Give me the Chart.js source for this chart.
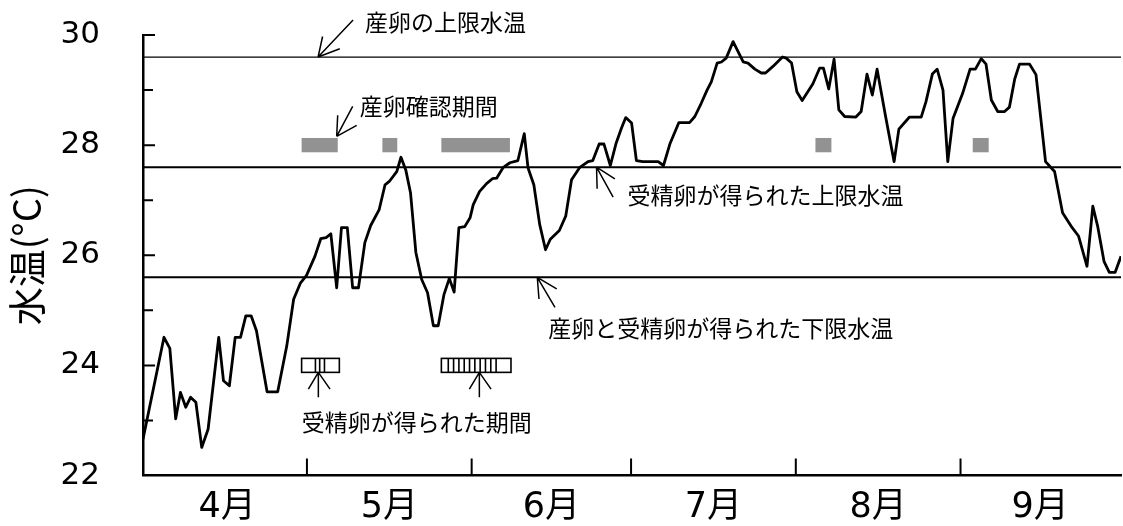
<!DOCTYPE html>
<html>
<head>
<meta charset="utf-8">
<script src="https://cdn.jsdelivr.net/npm/chart.js@4.4.1/dist/chart.umd.min.js"></script>
<style>
  html, body { margin: 0; padding: 0; background: #ffffff; }
  #wrap { width: 1123px; height: 526px; }
</style>
</head>
<body>
<div id="wrap"><canvas id="c" width="1123" height="526"></canvas></div>
<script>
// Day index counted from 1 April (0 = 4/1), daily water temperature (°C)
const dayIndex = [
  -0.85, 3.1, 4.2, 5.3, 6.2, 7.2, 8.1, 9.1, 10.2, 11.4, 13.4, 14.3, 15.4, 16.5, 17.5, 18.5, 19.5, 20.5,
  22.5, 24.5, 26.2, 27.5, 28.8, 29.9, 31.5, 32.6, 33.6, 34.5, 35.6, 36.5, 37.6, 38.6, 39.7, 40.9,
  42.0, 43.6, 44.7, 45.5, 46.9, 47.7, 48.6, 49.5, 50.5, 51.6, 52.7, 53.8, 54.7, 55.8, 56.8, 57.7,
  58.6, 59.7, 60.7, 61.3, 62.5, 63.8, 64.9, 65.7, 66.9, 68.2, 69.7, 70.9, 71.6, 72.7, 73.8, 74.9,
  75.8, 77.5, 78.7, 79.8, 81.3, 82.9, 83.8, 85.0, 85.9, 87.1, 88.2, 89.2, 90.0, 91.1, 92.0, 93.2,
  96.1, 97.1, 98.3, 100.0, 102.0, 103.0, 104.2, 105.3, 106.1, 107.2, 108.0, 108.9, 110.2, 112.1,
  113.0, 114.3, 115.5, 116.3, 117.7, 119.5, 120.2, 121.2, 122.2, 123.2, 125.2, 126.5, 127.2, 128.2,
  129.2, 130.1, 131.2, 133.3, 134.3, 135.4, 136.4, 137.3, 138.9, 140.5, 141.4, 143.4, 145.6, 146.5,
  147.7, 148.6, 149.7, 150.6, 151.6, 153.4, 154.8, 155.8, 156.9, 157.8, 158.8, 160.0, 161.3, 162.2,
  163.2, 164.1, 166.0, 167.2, 169.0, 170.7, 172.2, 173.8, 175.2, 176.8, 177.9, 178.8, 180.0, 181.0,
  182.1, 183.2
];
const waterTemp = [
  22.66, 24.51, 24.31, 23.03, 23.51, 23.24, 23.42, 23.33, 22.51, 22.84, 24.51, 23.72, 23.63, 24.51, 24.51, 24.90, 24.90, 24.63,
  23.52, 23.52, 24.35, 25.20, 25.50, 25.63, 25.98, 26.30, 26.32, 26.39, 25.41, 26.50, 26.50, 25.41, 25.41, 26.23,
  26.54, 26.83, 27.28, 27.34, 27.52, 27.78, 27.55, 27.13, 26.05, 25.56, 25.32, 24.72, 24.72, 25.29, 25.58, 25.33,
  26.50, 26.52, 26.68, 26.92, 27.16, 27.30, 27.39, 27.40, 27.59, 27.68, 27.72, 28.21, 27.59, 27.28, 26.56, 26.10,
  26.29, 26.45, 26.71, 27.37, 27.59, 27.70, 27.72, 28.02, 28.02, 27.63, 28.04, 28.31, 28.50, 28.40, 27.72, 27.70,
  27.70, 27.63, 28.02, 28.41, 28.41, 28.52, 28.76, 29.00, 29.15, 29.49, 29.51, 29.58, 29.88, 29.51,
  29.49, 29.38, 29.31, 29.31, 29.43, 29.60, 29.58, 29.49, 28.97, 28.81, 29.11, 29.40, 29.40, 29.02,
  29.56, 28.64, 28.52, 28.51, 28.61, 29.29, 28.91, 29.38, 28.52, 27.70, 28.29, 28.51, 28.51, 28.79,
  29.29, 29.38, 29.00, 27.70, 28.49, 28.94, 29.38, 29.38, 29.57, 29.47, 28.82, 28.61, 28.61, 28.69,
  29.20, 29.47, 29.47, 29.28, 27.70, 27.52, 26.77, 26.53, 26.35, 25.80, 26.89, 26.53, 25.89, 25.69,
  25.69, 25.98
];

// Months on the horizontal axis and the day each one starts
const monthNames = ['4月', '5月', '6月', '7月', '8月', '9月'];
const monthStartDays = [0, 30, 61, 91, 122, 153, 183];

// Vertical axis ticks
const tempTicks = [22, 23, 24, 25, 26, 27, 28, 29, 30];

// Threshold temperatures (°C)
const limitValues = [29.6, 27.6, 25.6];
const limitLabels = ['産卵の上限水温', '受精卵が得られた上限水温', '産卵と受精卵が得られた下限水温'];

// Spawning confirmed (start / end day)
const spawnStart = [29.0, 44.2, 55.3, 125.7, 155.3];
const spawnEnd   = [35.8, 47.0, 68.2, 128.7, 158.3];

// Fertilized eggs obtained (start / end day) and day marks inside each span
const fertStart = [29.0, 55.3];
const fertEnd   = [36.1, 68.4];
const fertDayMarks = [31.6, 32.4, 33.3, 56.6, 57.6, 58.6, 59.6, 60.6, 61.6, 62.6, 63.6, 64.6, 65.6];

const periodLabels = ['産卵確認期間', '受精卵が得られた期間'];

const X_MIN = -0.85, X_MAX = 183.2;
const JP_FONT = "'Noto Sans CJK JP', 'Noto Sans', sans-serif";

const monthMid = monthNames.map((_, i) => (monthStartDays[i] + monthStartDays[i + 1]) / 2);

function hLine(v) {
  return [{ x: X_MIN, y: v }, { x: X_MAX, y: v }];
}

// Callouts: anchor in data units, the rest as pixel offsets from the arrow tip
const callouts = [
  { text: limitLabels[0], at: [32.1, 29.6],  tail: [35, -37], wings: [[4.5, -20.5], [21.7, -8.3]], label: [47, -35] },
  { text: periodLabels[0], at: [35.6, 28.16], tail: [16, -30], wings: [[1, -21], [20, -11]], label: [23, -30] },
  { text: limitLabels[1], at: [84.5, 27.6],  tail: [16.6, 30], wings: [[0.6, 21.7], [18.3, 11.7]], label: [31, 28] },
  { text: limitLabels[2], at: [73.35, 25.6], tail: [17.7, 30], wings: [[1.7, 21.7], [19.4, 11.7]], label: [11, 51] }
];
const upArrowDays = [32.15, 62.45];

const overlay = {
  id: 'overlay',
  afterDatasetsDraw(chart) {
    const { ctx, scales: { x, y } } = chart;
    ctx.save();

    // spawning periods: filled grey blocks around 28 °C
    ctx.fillStyle = '#929292';
    const sTop = y.getPixelForValue(28.13), sBot = y.getPixelForValue(27.87);
    spawnStart.forEach((s, i) => {
      const x0 = x.getPixelForValue(s), x1 = x.getPixelForValue(spawnEnd[i]);
      ctx.fillRect(x0, sTop, x1 - x0, sBot - sTop);
    });

    // fertilized-egg periods: open boxes around 24 °C
    ctx.strokeStyle = '#000';
    ctx.lineWidth = 1.6;
    const fTop = y.getPixelForValue(24.127), fBot = y.getPixelForValue(23.873);
    fertStart.forEach((s, i) => {
      const x0 = x.getPixelForValue(s), x1 = x.getPixelForValue(fertEnd[i]);
      ctx.strokeRect(x0, fTop, x1 - x0, fBot - fTop);
    });
    ctx.beginPath();
    fertDayMarks.forEach(d => {
      const px = x.getPixelForValue(d);
      ctx.moveTo(px, fTop);
      ctx.lineTo(px, fBot);
    });
    ctx.stroke();

    // arrows
    ctx.lineWidth = 1.5;
    const arrow = (tx, ty, tail, wings) => {
      ctx.beginPath();
      ctx.moveTo(tx + tail[0], ty + tail[1]);
      ctx.lineTo(tx, ty);
      wings.forEach(w => { ctx.moveTo(tx, ty); ctx.lineTo(tx + w[0], ty + w[1]); });
      ctx.stroke();
    };

    ctx.fillStyle = '#000';
    ctx.font = '23px ' + JP_FONT;
    ctx.textBaseline = 'middle';
    ctx.textAlign = 'left';
    callouts.forEach(c => {
      const tx = x.getPixelForValue(c.at[0]), ty = y.getPixelForValue(c.at[1]);
      arrow(tx, ty, c.tail, c.wings);
      ctx.fillText(c.text, tx + c.label[0], ty + c.label[1]);
    });

    upArrowDays.forEach(d => {
      arrow(x.getPixelForValue(d), fBot, [0, 25], [[-10, 16.7], [11.7, 16.7]]);
    });
    ctx.fillText(periodLabels[1], x.getPixelForValue(upArrowDays[0]) - 16.6, fBot + 50);

    ctx.restore();
  },
  afterDraw(chart) {
    // tick marks pointing into the plot
    const { ctx, chartArea: a, scales: { x, y } } = chart;
    ctx.save();
    ctx.strokeStyle = '#000';
    ctx.lineWidth = 2;
    ctx.beginPath();
    tempTicks.forEach(v => {
      if (v === 22) return;
      const py = y.getPixelForValue(v);
      const len = v % 2 === 0 ? 12 : 10;
      ctx.moveTo(a.left, py);
      ctx.lineTo(a.left + len, py);
    });
    monthStartDays.slice(1, -1).forEach(d => {
      const px = x.getPixelForValue(d);
      ctx.moveTo(px, a.bottom);
      ctx.lineTo(px, a.bottom - 17);
    });
    ctx.stroke();
    ctx.restore();
  }
};

new Chart(document.getElementById('c'), {
  type: 'line',
  data: {
    datasets: [
      {
        label: '水温',
        data: dayIndex.map((d, i) => ({ x: d, y: waterTemp[i] })),
        borderColor: '#000',
        borderWidth: 2.8,
        borderJoinStyle: 'round',
        pointRadius: 0,
        tension: 0
      },
      {
        label: limitLabels[0],
        data: hLine(limitValues[0]),
        borderColor: '#000',
        borderWidth: 1.3,
        pointRadius: 0
      },
      {
        label: limitLabels[1],
        data: hLine(limitValues[1]),
        borderColor: '#000',
        borderWidth: 2,
        pointRadius: 0
      },
      {
        label: limitLabels[2],
        data: hLine(limitValues[2]),
        borderColor: '#000',
        borderWidth: 2,
        pointRadius: 0
      }
    ]
  },
  options: {
    responsive: false,
    animation: false,
    devicePixelRatio: 1,
    layout: { padding: { top: 35, right: 2, left: 0, bottom: 0 } },
    plugins: {
      legend: { display: false },
      tooltip: { enabled: false }
    },
    scales: {
      x: {
        type: 'linear',
        min: X_MIN,
        max: X_MAX,
        afterBuildTicks: s => { s.ticks = monthMid.map(v => ({ value: v })); },
        afterFit: s => { s.height = 50.5; s.paddingLeft = 0; s.paddingRight = 0; },
        grid: { display: false, drawTicks: false },
        border: { display: true, color: '#000', width: 2.5 },
        ticks: {
          autoSkip: false,
          maxRotation: 0,
          padding: 11,
          color: '#000',
          font: { family: "'DejaVu Sans', " + JP_FONT, size: 35 },
          callback: (v, i) => monthNames[i]
        }
      },
      y: {
        min: 22,
        max: 30,
        afterBuildTicks: s => { s.ticks = tempTicks.map(v => ({ value: v })); },
        afterFit: s => { s.width = 143; s.paddingTop = 0; s.paddingBottom = 0; },
        grid: { display: false, drawTicks: false },
        border: { display: true, color: '#000', width: 2.5 },
        ticks: {
          padding: 43,
          color: '#000',
          font: { family: "'DejaVu Sans', sans-serif", size: 31 },
          callback: v => (v % 2 === 0 ? String(v) : '')
        },
        title: {
          display: true,
          text: '水温(°C)',
          color: '#000',
          padding: { top: 4, bottom: 0 },
          font: { family: JP_FONT, size: 38 }
        }
      }
    }
  },
  plugins: [overlay]
});
</script>
</body>
</html>
